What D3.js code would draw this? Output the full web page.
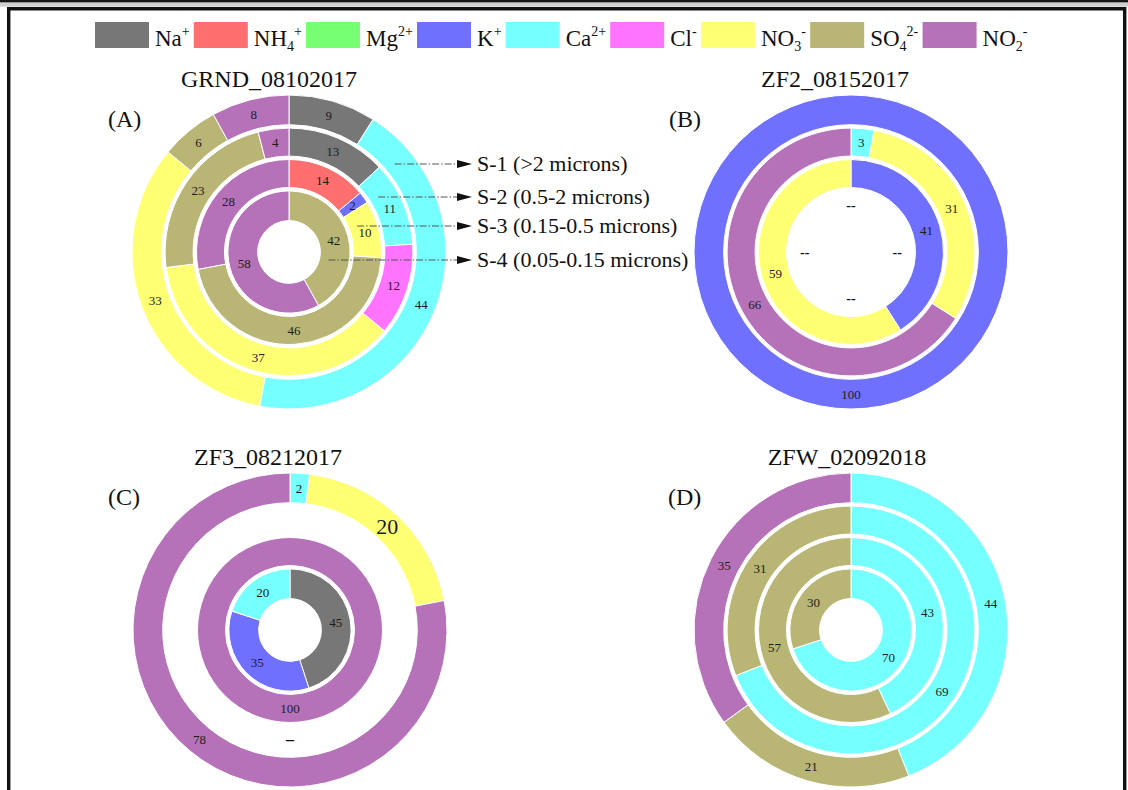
<!DOCTYPE html>
<html><head><meta charset="utf-8">
<script src="https://cdn.jsdelivr.net/npm/d3@7"></script>
<style>
html,body{margin:0;padding:0;background:#fff;}
svg{display:block;}
svg text{font-family:'Liberation Serif','Tinos','Times New Roman','DejaVu Serif',serif;}
</style>
</head><body>
<svg id="chart" width="1128" height="790"></svg>
<script>
// ---------------- DATA ----------------
const ions      = ["Na","NH4","Mg","K","Ca","Cl","NO3","SO4","NO2"];
const ionBase   = ["Na","NH","Mg","K","Ca","Cl","NO","SO","NO"];
const ionSub    = ["","4","","","","","3","4","2"];
const ionSup    = ["+","+","2+","+","2+","-","-","2-","-"];
const ionColors = ["#777777","#ff6f6f","#76ff70","#7070ff","#76ffff","#ff74ff","#ffff74","#b8b575","#b672b8"];

const sizeFractions = ["S-1 (>2 microns)","S-2 (0.5-2 microns)","S-3 (0.15-0.5 microns)","S-4 (0.05-0.15 microns)"];
const panelTitles = ["GRND_08102017","ZF2_08152017","ZF3_08212017","ZFW_02092018"];
const panelTags   = ["(A)","(B)","(C)","(D)"];

// rings listed S-1 (outer) -> S-4 (inner); values in %
const A_S1 = [["Na",9],["Ca",44],["NO3",33],["SO4",6],["NO2",8]];
const A_S2 = [["Na",13],["Ca",11],["Cl",12],["NO3",37],["SO4",23],["NO2",4]];
const A_S3 = [["NH4",14],["K",2],["NO3",10],["SO4",46],["NO2",28]];
const A_S4 = [["SO4",42],["NO2",58]];

const B_S1 = [["K",100]];
const B_S2 = [["Ca",3],["NO3",31],["NO2",66]];
const B_S3 = [["K",41],["NO3",59]];
const B_S4 = [];
const B_S4_marks = ["--","--","--","--"];

const C_S1 = [["Ca",2],["NO3",20],["NO2",78]];
const C_S2 = [];
const C_S2_marks = ["\u2013"];
const C_S3 = [["NO2",100]];
const C_S4 = [["Na",45],["K",35],["Ca",20]];

const D_S1 = [["Ca",44],["SO4",21],["NO2",35]];
const D_S2 = [["Ca",69],["SO4",31]];
const D_S3 = [["Ca",43],["SO4",57]];
const D_S4 = [["Ca",70],["SO4",30]];

// ---------------- LAYOUT ----------------
const FONT = "'Liberation Serif','Tinos','Times New Roman','DejaVu Serif',serif";
const svg = d3.select("#chart").attr("font-family", FONT);
const W = 1128, H = 790;
const color = d3.scaleOrdinal().domain(ions).range(ionColors);
const rScale = d3.scaleLinear().domain([0,4]).range([31.4,157]);
const GAP = 1.7;

// frame
svg.append("rect").attr("x",0).attr("y",0).attr("width",W).attr("height",2.6).attr("fill","#151515");
svg.append("rect").attr("x",0).attr("y",2.6).attr("width",W).attr("height",4).attr("fill","#d0d0d0");
svg.append("path").attr("d",`M8.7,${H+5} V8.7 H1124.7 V${H+5}`)
  .attr("fill","none").attr("stroke","#111").attr("stroke-width",3.4);

// legend
(function(){
  const g = svg.append("g");
  let x = 95;
  ions.forEach((ion,i)=>{
    g.append("rect").attr("x",x).attr("y",22).attr("width",54).attr("height",26).attr("fill",color(ion));
    const t = g.append("text").attr("x",x+60).attr("y",46).attr("font-size",23).attr("fill","#111")
      .attr("font-family",FONT);
    t.append("tspan").text(ionBase[i]);
    let sub = ionSub[i];
    if (sub) t.append("tspan").attr("font-size",14).attr("dy",5).text(sub);
    t.append("tspan").attr("font-size",14).attr("dy", sub ? -15 : -10).text(ionSup[i]);
    const w = t.node().getBBox().width;
    x += 60 + w + 4;
  });
})();

const panels = [
  {title:panelTitles[0], tag:panelTags[0], cx:289, cy:252, rings:[A_S1,A_S2,A_S3,A_S4], tx:-20, tagx:108},
  {title:panelTitles[1], tag:panelTags[1], cx:851, cy:252, rings:[B_S1,B_S2,B_S3,B_S4], tx:-16, tagx:669},
  {title:panelTitles[2], tag:panelTags[2], cx:290, cy:630, rings:[C_S1,C_S2,C_S3,C_S4], tx:-22, tagx:108},
  {title:panelTitles[3], tag:panelTags[3], cx:851, cy:630, rings:[D_S1,D_S2,D_S3,D_S4], tx:-4, tagx:668}
];

const pie = d3.pie().sort(null).value(d=>d[1]);

function ringRadii(i){
  const k = 3 - i; // boundary index of inner edge
  const inner = rScale(k) + (k>0 ? GAP : 0);
  const outer = rScale(k+1) - (k+1<4 ? GAP : 0);
  return [inner, outer];
}

panels.forEach((p,pi)=>{
  const g = svg.append("g").attr("transform",`translate(${p.cx},${p.cy})`);
  svg.append("text").attr("x",p.cx+p.tx).attr("y",p.cy-165).attr("text-anchor","middle")
    .attr("font-family",FONT).attr("font-size",24).attr("fill","#111").text(p.title);
  svg.append("text").attr("x",p.tagx).attr("y",p.cy-125).attr("font-family",FONT)
    .attr("font-size",24).attr("fill","#111").text(p.tag);

  p.rings.forEach((ring,i)=>{
    const [ri,ro] = ringRadii(i);
    const arc = d3.arc().innerRadius(ri).outerRadius(ro);
    const arcs = pie(ring);
    g.selectAll(null).data(arcs).enter().append("path")
      .attr("d",arc).attr("fill",d=>color(d.data[0]))
      .attr("stroke","#fff").attr("stroke-width",1);
    g.selectAll(null).data(arcs).enter().append("text")
      .attr("transform",d=>`translate(${arc.centroid(d)})`)
      .attr("text-anchor","middle").attr("dominant-baseline","central")
      .attr("font-family",FONT)
      .attr("font-size",d=>(pi===2 && i===0 && d.data[1]===20) ? 22 : 13)
      .attr("fill","#1c1c1c")
      .text(d=>d.data[1]);
  });
});

// placeholder marks for missing size fractions
(function(){
  const pB = panels[1];
  const [ri,ro] = ringRadii(3);
  const arc = d3.arc().innerRadius(ri).outerRadius(ro);
  const mp = d3.pie().sort(null).value(1).startAngle(-Math.PI/4).endAngle(7*Math.PI/4);
  svg.append("g").attr("transform",`translate(${pB.cx},${pB.cy})`)
    .selectAll(null).data(mp(B_S4_marks)).enter().append("text")
    .attr("transform",d=>`translate(${arc.centroid(d)})`)
    .attr("text-anchor","middle").attr("dominant-baseline","central").attr("font-family",FONT)
    .attr("font-size",14).attr("font-weight","bold").attr("fill","#111").text(d=>d.data);

  const pC = panels[2];
  const [ri2,ro2] = ringRadii(1);
  const arc2 = d3.arc().innerRadius(ri2).outerRadius(ro2);
  svg.append("g").attr("transform",`translate(${pC.cx},${pC.cy})`)
    .selectAll(null).data(d3.pie().sort(null).value(1)(C_S2_marks)).enter().append("text")
    .attr("transform",d=>`translate(${arc2.centroid(d)})`)
    .attr("text-anchor","middle").attr("dominant-baseline","central").attr("font-family",FONT)
    .attr("font-size",16).attr("font-weight","bold").attr("fill","#111").text(d=>d.data);
})();

// size-fraction annotations in panel A
(function(){
  const p = panels[0];
  const ys = [164,197,226,260];
  const g = svg.append("g");
  sizeFractions.forEach((s,i)=>{
    const [ri,ro] = ringRadii(i);
    const rm = (ri+ro)/2;
    const dy = ys[i]-p.cy;
    const x0 = p.cx + Math.sqrt(Math.max(0, rm*rm - dy*dy)) - 6;
    g.append("line").attr("x1",x0).attr("x2",458).attr("y1",ys[i]).attr("y2",ys[i])
      .attr("stroke","#555").attr("stroke-width",1).attr("stroke-dasharray","7,2,1.5,2");
    g.append("path").attr("d",`M457,${ys[i]-4} L472,${ys[i]} L457,${ys[i]+4} Z`).attr("fill","#111");
    g.append("text").attr("x",477).attr("y",ys[i]+7).attr("font-family",FONT)
      .attr("font-size",22).attr("fill","#111").text(s);
  });
})();
</script>
</body></html>
